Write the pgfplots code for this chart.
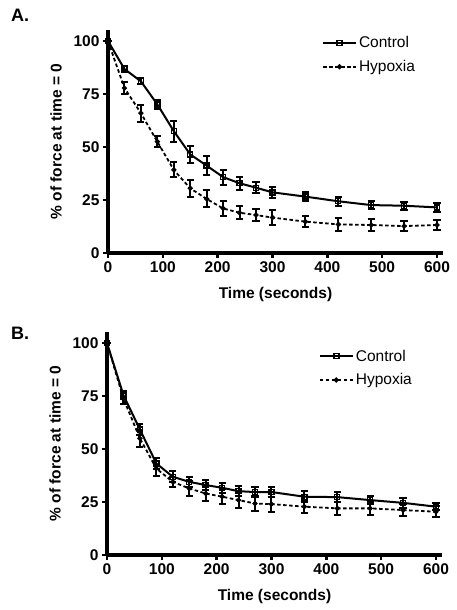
\documentclass[border=0pt]{standalone}
\usepackage{fontspec}
\setmainfont{Liberation Sans}
\usepackage{pgfplots}
\pgfplotsset{compat=1.18}
\usepackage{pgfplotstable}

\pgfplotstableread{
x y e
0 100 0
30 86.8 1.2
60 81 1.5
90 70.1 2
120 57.5 5
150 46.5 4
180 41.2 4.5
210 35.8 3.5
240 32.9 3
270 30.8 2.5
300 28.6 2.5
360 26.6 2
420 24.4 2
480 22.6 1.8
540 22.3 1.8
600 21.5 2
}\ctrlA
\pgfplotstableread{
x y e
0 100 0
30 77.8 3
60 66 4
90 52.5 2.5
120 39.2 3.5
150 30.5 4
180 25.5 4
210 21 3.5
240 19 3
270 17.9 3
300 16.7 3.5
360 14.8 2.5
420 13.5 3
480 13.2 3
540 12.7 2.5
600 13.2 2.5
}\hypA
\pgfplotstableread{
x y e
0 100 0
30 75.4 2
60 59.2 2.5
90 43.2 2.5
120 36.9 2.5
150 34.5 2.5
180 33 2.5
210 31.7 2.5
240 30.1 2.5
270 29.7 2.5
300 29.7 2.5
360 27.5 2.5
420 27.3 2.5
480 25.9 2
540 24.6 2.5
600 22.8 1.5
}\ctrlB
\pgfplotstableread{
x y e
0 100 0
30 73.8 2.5
60 55 4
90 40.8 3.5
120 34.5 2.5
150 31.4 3.5
180 29 3.5
210 27.5 3.5
240 25.9 3.5
270 24.3 3.5
300 24 3.5
360 22.8 3
420 22 3
480 22 3
540 21.2 3
600 20.4 2.5
}\hypB

\newcommand{\tickfont}{\fontsize{15.5}{18}\selectfont\bfseries}
\newcommand{\legfont}{\fontsize{15.5}{18}\selectfont}

\pgfplotsset{
  prism/.style={
    scale only axis, width=335pt, height=223pt,
    xmin=0, xmax=611, ymin=0, ymax=105.2,
    axis x line*=bottom, axis y line*=left,
    axis line style={line width=3.2pt,-},
    xtick={0,100,...,600}, ytick={0,25,50,75,100},
    tick align=outside, major tick length=5pt,
    tick style={line width=2.6pt, black},
    xticklabel={\tickfont\pgfmathprintnumber{\tick}},
    yticklabel={\tickfont\pgfmathprintnumber{\tick}},
    /pgf/number format/assume math mode=true,
    xlabel={\tickfont Time (seconds)},
    ylabel={\tickfont \% of force at time = 0},
    xlabel style={yshift=-8pt},
    ylabel style={yshift=5pt},
    legend style={draw=none, fill=none,
      anchor=north west, inner sep=0pt, row sep=7pt, cells={anchor=west}},
    clip=false,
  },
  ctrl/.style={black, line width=2pt, mark=square, mark size=2.5pt,
    mark options={solid, line width=1.4pt, fill=white},
    legend image code/.code={\draw[mark repeat=2,mark phase=2] plot coordinates {(0pt,0pt)(16.5pt,0pt)(33pt,0pt)};},
    error bars/.cd, y dir=both, y explicit,
    error bar style={line width=2pt, solid},
    error mark options={rotate=90, mark size=3.6pt, line width=2pt, solid}},
  hyp/.style={black, line width=1.8pt, dash pattern=on 3.5pt off 2.5pt, mark=*, mark size=1.6pt,
    mark options={solid},
    legend image code/.code={\draw[mark repeat=2,mark phase=2] plot coordinates {(0pt,0pt)(16.5pt,0pt)(33pt,0pt)};},
    error bars/.cd, y dir=both, y explicit,
    error bar style={line width=2pt, solid},
    error mark options={rotate=90, mark size=3.6pt, line width=2pt, solid}},
}

\begin{document}
\begin{tikzpicture}[x=1pt,y=1pt]
\path[use as bounding box] (0,0) rectangle (456,610);
\node[anchor=base west, font=\bfseries\fontsize{18}{20}\selectfont, inner sep=0pt] at (11,588) {A.};
\node[anchor=base west, font=\bfseries\fontsize{18}{20}\selectfont, inner sep=0pt] at (11,270) {B.};

\begin{axis}[prism, at={(108pt,357pt)}, anchor=south west,
  legend style={at={(axis cs:390,103.1)}}]
\addplot[ctrl] table[x=x, y=y, y error=e] {\ctrlA};
\addlegendentry{\legfont Control}
\addplot[hyp] table[x=x, y=y, y error=e] {\hypA};
\addlegendentry{\legfont Hypoxia}
\end{axis}

\begin{axis}[prism, at={(107pt,55pt)}, anchor=south west,
  legend style={at={(axis cs:386,97.8)}}]
\addplot[ctrl] table[x=x, y=y, y error=e] {\ctrlB};
\addlegendentry{\legfont Control}
\addplot[hyp] table[x=x, y=y, y error=e] {\hypB};
\addlegendentry{\legfont Hypoxia}
\end{axis}
\end{tikzpicture}
\end{document}
